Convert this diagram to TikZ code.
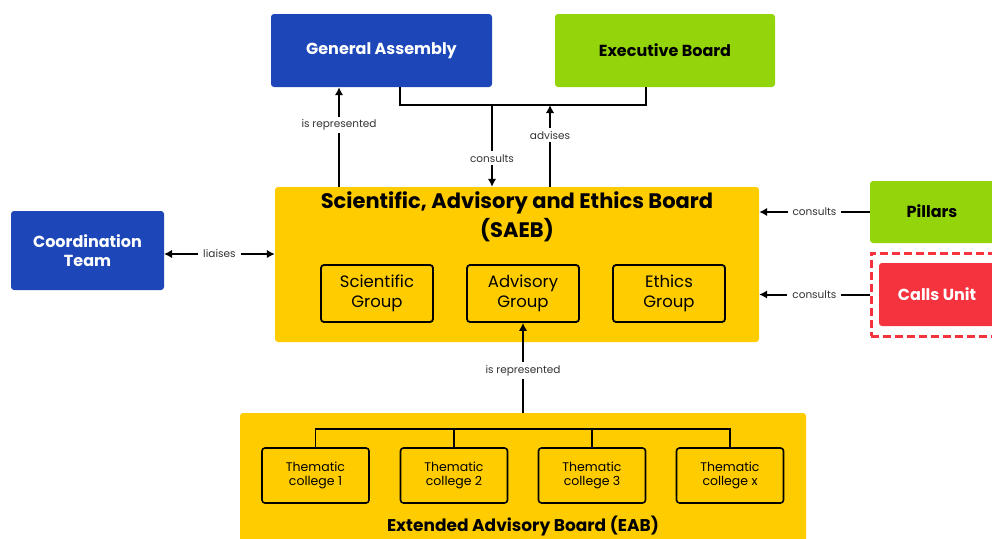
\documentclass[tikz,border=0pt]{standalone}
\usepackage{fontspec}
\setmainfont{Poppins}
\usetikzlibrary{arrows.meta}
\definecolor{cblue}{HTML}{1D47B8}
\definecolor{cgreen}{HTML}{94D40A}
\definecolor{cyellow}{HTML}{FFCC00}
\definecolor{cred}{HTML}{F4333F}
\definecolor{clab}{HTML}{333333}
\tikzset{
  box/.style={rounded corners=3pt, inner sep=0pt, align=center, font=\bfseries\fontsize{16}{19}\selectfont},
  bluebox/.style={box, fill=cblue, text=white},
  greenbox/.style={box, fill=cgreen, text=black},
  redbox/.style={box, fill=cred, text=white},
  yellowbox/.style={rounded corners=3pt, fill=cyellow, inner sep=0pt},
  grp/.style={draw=black, line width=1.8pt, rounded corners=3pt, fill=cyellow, inner sep=0pt, align=center, minimum width=112pt, minimum height=57pt, font=\fontsize{16.5}{19.5}\selectfont},
  college/.style={draw=black, line width=1.6pt, rounded corners=3pt, fill=cyellow, inner sep=0pt, align=center, minimum width=107pt, minimum height=55pt, font=\fontsize{12.5}{14.5}\selectfont},
  conn/.style={line width=2pt, draw=black},
  arr/.style={conn, -{Latex[length=8pt,width=8.5pt]}},
  darr/.style={conn, {Latex[length=8pt,width=8.5pt]}-{Latex[length=8pt,width=8.5pt]}},
  lab/.style={fill=white, text=clab, inner xsep=5pt, inner ysep=3pt, font=\fontsize{10.5}{12}\selectfont},
}
\begin{document}
\begin{tikzpicture}[x=1pt,y=-1pt]
\useasboundingbox (0,0) rectangle (992,538);
\clip (0,0) rectangle (992,538);
% top boxes
\node[bluebox, minimum width=221pt, minimum height=73pt] (ga) at (381.5,50.5) {General Assembly};
\node[greenbox, minimum width=220pt, minimum height=73pt] (eb) at (665,50.5) {Executive Board};
% SAEB
\node[yellowbox, minimum width=484pt, minimum height=155pt] (saeb) at (517,264.5) {};
\node[align=center, inner sep=0pt, font=\bfseries\fontsize{21}{28.5}\selectfont] (saebt) at (517,217) {Scientific, Advisory and Ethics Board\\(SAEB)};
\node[grp] (sci) at (377,293.5) {Scientific\\Group};
\node[grp] (adv) at (523,293.5) {Advisory\\Group};
\node[grp] (eth) at (669,293.5) {Ethics\\Group};
% left / right
\node[bluebox, minimum width=153pt, minimum height=79pt] (ct) at (87.5,250.5) {Coordination\\Team};
\node[greenbox, minimum width=130pt, minimum height=62pt] (pil) at (935,212) {};
\node[font=\bfseries\fontsize{16}{19}\selectfont, inner sep=0pt] (pilt) at (932,211) {Pillars};
\node[draw=cred, line width=3pt, dash pattern=on 8pt off 4pt, minimum width=129pt, minimum height=83pt, inner sep=0pt] (callo) at (935.5,294.5) {};
\node[redbox, minimum width=125pt, minimum height=63pt] (call) at (941.5,294.5) {};
\node[font=\bfseries\fontsize{16}{19}\selectfont, text=white, inner sep=0pt] (callt) at (937,294) {Calls Unit};
% EAB
\node[yellowbox, minimum width=566pt, minimum height=147pt] (eab) at (523,486.5) {};
\node[font=\bfseries\fontsize{17}{19}\selectfont, inner sep=0pt] (eabt) at (523,526) {Extended Advisory Board (EAB)};
\node[college] (c1) at (315.5,475.5) {Thematic\\college 1};
\node[college] (c2) at (454,475.5) {Thematic\\college 2};
\node[college] (c3) at (592,475.5) {Thematic\\college 3};
\node[college] (c4) at (730,475.5) {Thematic\\college x};
% EAB bus
\coordinate (eb1) at (315.5,429);
\coordinate (eb4) at (730,429);
\draw[conn, line width=1.8pt] (c1.north) -- (eb1) -- (eb4) -- (c4.north);
\draw[conn, line width=1.8pt] (c2.north) -- (c2.north |- eb1);
\draw[conn, line width=1.8pt] (c3.north) -- (c3.north |- eb1);
% top bus
\coordinate (busL) at (400,105);
\coordinate (busR) at (646,105);
\draw[conn] (busL |- ga.south) -- (busL) -- (busR) -- (busR |- eb.south);
% is represented (GA)
\coordinate (rep1) at (339,187);
\draw[arr] (rep1) -- (rep1 |- ga.south) node[lab, pos=0.62] (l1) {is represented};
% consults (down)
\coordinate (cons) at (492,105);
\draw[arr] (cons) -- (cons |- saeb.north) node[lab, pos=0.65] (l2) {consults};
% advises (up)
\coordinate (adv1) at (550,187);
\draw[arr] (adv1) -- (adv1 |- busR) node[lab, pos=0.63] (l3) {advises};
% liaises
\coordinate (li) at (164,254);
\draw[darr] (li) -- (li -| saeb.west) node[lab, midway] (l4) {liaises};
% consults right
\draw[arr] (pil.west) -- (pil.west -| saeb.east) node[lab, midway] (l5) {consults};
\draw[arr] (callo.west) -- (callo.west -| saeb.east) node[lab, midway] (l6) {consults};
% EAB represented
\draw[arr] (eab.north -| adv.south) -- (adv.south) node[lab, pos=0.47] (l7) {is represented};
\end{tikzpicture}
\end{document}
